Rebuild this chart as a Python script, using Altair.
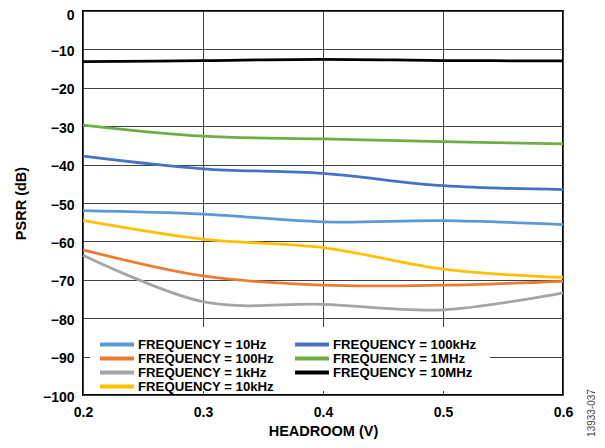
import altair as alt
import pandas as pd

# ---- data ----
headroom = [0.2, 0.3, 0.4, 0.5, 0.6]

series_names = [
    "FREQUENCY = 10Hz",
    "FREQUENCY = 100Hz",
    "FREQUENCY = 1kHz",
    "FREQUENCY = 10kHz",
    "FREQUENCY = 100kHz",
    "FREQUENCY = 1MHz",
    "FREQUENCY = 10MHz",
]
psrr_10hz = [-52.0, -52.9, -54.9, -54.6, -55.6]
psrr_100hz = [-62.2, -69.0, -71.4, -71.4, -70.4]
psrr_1khz = [-63.6, -75.7, -76.4, -77.8, -73.4]
psrr_10khz = [-54.5, -59.4, -61.6, -67.2, -69.4]
psrr_100khz = [-37.8, -41.1, -42.3, -45.5, -46.5]
psrr_1mhz = [-29.7, -32.6, -33.3, -34.0, -34.6]
psrr_10mhz = [-13.2, -12.9, -12.6, -12.9, -13.0]

series_colors = ["#5B9BD5", "#ED7D31", "#A5A5A5", "#FFC000", "#4472C4", "#70AD47", "#000000"]

x_ticks = [0.2, 0.3, 0.4, 0.5, 0.6]
y_ticks = [0, -10, -20, -30, -40, -50, -60, -70, -80, -90, -100]

all_values = [psrr_10hz, psrr_100hz, psrr_1khz, psrr_10khz, psrr_100khz, psrr_1mhz, psrr_10mhz]
rows = []
for k, (name, vals) in enumerate(zip(series_names, all_values)):
    for h, v in zip(headroom, vals):
        rows.append({"series": name, "order": k, "headroom": h, "psrr": v})
df = pd.DataFrame(rows)

FONT = "Liberation Sans"

lines = alt.Chart(df).mark_line(
    interpolate="cardinal", tension=0, strokeWidth=2.75
).encode(
    x=alt.X(
        "headroom:Q",
        scale=alt.Scale(domain=[0.2, 0.6], nice=False, zero=False),
        axis=alt.Axis(
            values=x_ticks, format=".1f", title="HEADROOM (V)",
            labelPadding=10, titlePadding=5, labelFlush=False,
        ),
    ),
    y=alt.Y(
        "psrr:Q",
        scale=alt.Scale(domain=[-100, 0], nice=False),
        axis=alt.Axis(
            values=y_ticks, title="PSRR (dB)", labelPadding=9, titlePadding=14,
            labelOffset={"condition": {"test": "datum.value == 0", "value": 4.5}, "value": 2},
        ),
    ),
    color=alt.Color(
        "series:N",
        scale=alt.Scale(domain=series_names, range=series_colors),
        legend=alt.Legend(
            title=None, orient="none", legendX=15, legendY=327, columns=2,
            symbolType="stroke", symbolSize=1156, symbolStrokeWidth=4,
            clipHeight=13, rowPadding=0, columnPadding=19, padding=0,
            labelFont=FONT, labelFontSize=13.2, labelFontWeight="bold",
            labelColor="black", labelOffset=2, labelLimit=300,
        ),
    ),
    order=alt.Order("order:Q"),
)

cover = alt.Chart(pd.DataFrame({"a": [0]})).mark_rect(color="white").encode(
    x=alt.value(7), x2=alt.value(407), y=alt.value(316), y2=alt.value(380)
)

code = alt.Chart(pd.DataFrame({"t": ["13933-037"]})).mark_text(
    angle=270, font=FONT, fontSize=10, color="#444444", align="center", baseline="middle"
).encode(text="t:N", x=alt.value(509), y=alt.value(402))

chart = alt.layer(lines, cover, code).properties(
    width=480, height=384,
    autosize=alt.AutoSizeParams(type="none"),
    padding={"left": 75, "top": 3, "right": 33, "bottom": 45},
).configure_view(
    stroke="black", strokeWidth=2
).configure_axis(
    grid=True, gridColor="#404040", gridWidth=1, gridOpacity=1,
    domain=False, ticks=False,
    labelFont=FONT, labelFontSize=14, labelFontWeight="bold", labelColor="black",
    titleFont=FONT, titleFontSize=14.5, titleFontWeight="bold", titleColor="black",
)

chart.save("out.html", embed_options={"renderer": "svg", "actions": False})
